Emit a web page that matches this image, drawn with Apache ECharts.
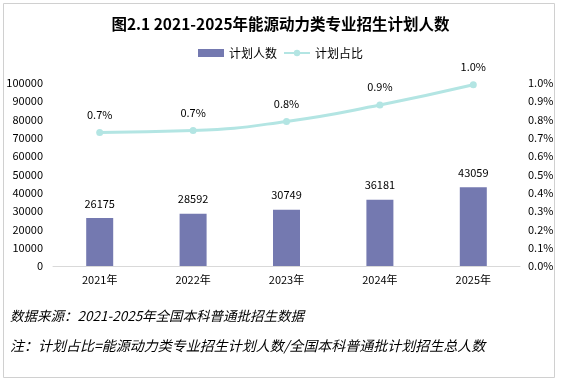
<!DOCTYPE html>
<html><head><meta charset="utf-8">
<script src="https://cdn.jsdelivr.net/npm/echarts@6/dist/echarts.min.js"></script>
<style>html,body{margin:0;padding:0;background:#fff}#c{width:561px;height:382px}</style>
</head><body><div id="c"></div>
<script>
const categories = ['2021年','2022年','2023年','2024年','2025年'];
const planCounts = [26175, 28592, 30749, 36181, 43059];
const planShare = [0.73, 0.74, 0.79, 0.88, 0.99];
const leftTicks = [0, 100000, 10000];
const rightTicks = [0, 1.0, 0.1];

const chart = echarts.init(document.getElementById('c'));
const F = '"Noto Sans CJK SC", "DejaVu Sans", sans-serif';
chart.setOption({
  animation: false,
  backgroundColor: '#fff',
  title: {
    text: '图2.1 2021-2025年能源动力类专业招生计划人数',
    left: 'center', top: 11,
    textStyle: { fontFamily: F, fontSize: 15.5, fontWeight: 'bold', color: '#000' }
  },
  legend: {
    top: 42, left: 'center', itemWidth: 26, itemHeight: 8, itemGap: 6,
    textStyle: { fontFamily: F, fontSize: 12, color: '#000' },
    data: [{name:'计划人数', icon:'rect'}, {name:'计划占比'}]
  },
  grid: { left: 53, right: 41, top: 83, bottom: 116, containLabel: false },
  xAxis: {
    type: 'category', data: categories,
    axisLine: { lineStyle: { color: '#d9d9d9' } },
    axisTick: { show: false },
    axisLabel: { fontFamily: F, fontSize: 11, color: '#000', margin: 8 }
  },
  yAxis: [
    { type: 'value', min: leftTicks[0], max: leftTicks[1], interval: leftTicks[2],
      splitLine: { show: false }, axisLine: { show: false }, axisTick: { show: false },
      axisLabel: { fontFamily: F, fontSize: 11, color: '#000', margin: 10, formatter: v => String(v) } },
    { type: 'value', min: rightTicks[0], max: rightTicks[1], interval: rightTicks[2],
      splitLine: { show: false }, axisLine: { show: false }, axisTick: { show: false },
      axisLabel: { fontFamily: F, fontSize: 11, color: '#000', margin: 8,
        formatter: v => v.toFixed(1) + '%' } }
  ],
  series: [
    { name: '计划人数', type: 'bar', data: planCounts, barWidth: 27,
      itemStyle: { color: '#7479b0' },
      label: { show: true, position: 'top', distance: 9, fontFamily: F, fontSize: 11, color: '#000' } },
    { name: '计划占比', type: 'line', yAxisIndex: 1, data: planShare, smooth: true,
      symbol: 'circle', symbolSize: 7,
      lineStyle: { color: '#b3e5e3', width: 3 }, itemStyle: { color: '#b3e5e3' },
      label: { show: true, position: 'top', distance: 9, fontFamily: F, fontSize: 11, color: '#000',
        formatter: p => p.value.toFixed(1) + '%' } }
  ],
  graphic: [
    { type: 'rect', shape: { x: 3.5, y: 3.5, width: 551, height: 374 },
      style: { fill: 'none', stroke: '#d0d0d0', lineWidth: 1 }, silent: true },
    { type: 'text', left: 10, top: 309,
      style: { text: '数据来源：2021-2025年全国本科普通批招生数据', font: 'italic 13.5px ' + F, fill: '#000' } },
    { type: 'text', left: 10, top: 339,
      style: { text: '注：计划占比=能源动力类专业招生计划人数/全国本科普通批计划招生总人数', font: 'italic 14px ' + F, fill: '#000' } }
  ]
});
</script></body></html>
